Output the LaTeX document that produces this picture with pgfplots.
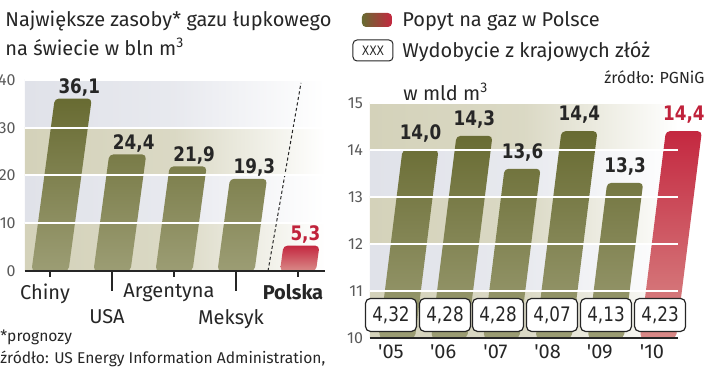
\documentclass[border=0pt]{standalone}
\usepackage{pgfplots}
\pgfplotsset{compat=1.18}
\usepackage{fontspec}
\setmainfont{Fira Sans}
\newfontfamily\valfont[FakeStretch=0.84]{DejaVu Sans}
\definecolor{olT}{HTML}{686B32}
\definecolor{olB}{HTML}{9C9D74}
\definecolor{rdT}{HTML}{C42840}
\definecolor{rdB}{HTML}{D98A88}
\definecolor{gb}{HTML}{E0E2E9}
\definecolor{bg}{HTML}{D4D2BA}
\definecolor{txt}{HTML}{262626}
\definecolor{rdtxt}{HTML}{C0223B}
\definecolor{tk}{HTML}{5A5A5A}
\begin{document}
\begin{tikzpicture}[x=1pt,y=1pt]
\useasboundingbox (0,0) rectangle (360,189);
% ---------- titles ----------
\node[anchor=west, inner sep=0, text=txt, font=\fontsize{10}{12}\selectfont] at (2.5,178.5) {Największe zasoby* gazu łupkowego};
\node[anchor=west, inner sep=0, text=txt, font=\fontsize{10}{12}\selectfont] at (2.5,165.5) {na świecie w bln m\textsuperscript{3}};
\node[anchor=west, inner sep=0, text=txt, font=\fontsize{7.8}{9}\selectfont] at (0,20.5) {*prognozy};
\node[anchor=west, inner sep=0, text=txt, font=\fontsize{7.8}{9}\selectfont] at (0,9.5) {źródło: US Energy Information Administration,};
% ---------- legend ----------
\shade[left color=olT, right color=rdT, rounded corners=2pt] (181,175.5) rectangle (196,182.5);
\node[anchor=west, inner sep=0, text=txt, font=\fontsize{10}{12}\selectfont] at (201,178.5) {Popyt na gaz w Polsce};
\draw[txt, line width=0.5pt, rounded corners=2pt, fill=white] (176.5,158.5) rectangle (196.5,169);
\node[inner sep=0, text=txt, font=\valfont\fontsize{6.5}{8}\selectfont] at (186.5,163.7) {XXX};
\node[anchor=west, inner sep=0, text=txt, font=\fontsize{10}{12}\selectfont] at (201,163) {Wydobycie z krajowych złóż};
\node[anchor=east, inner sep=0, text=txt, font=\fontsize{8}{10}\selectfont] at (352.5,150.5) {źródło: PGNiG};
\node[anchor=west, inner sep=0, text=txt, font=\fontsize{10}{12}\selectfont] at (201.5,143) {w mld m\textsuperscript{3}};
% ---------- left axis ----------
\begin{axis}[at={(12.5pt,53.5pt)}, anchor=south west, scale only axis,
  width=150pt, height=95.5pt, disabledatascaling,
  xmin=-0.403, xmax=4.435, ymin=0, ymax=40,
  axis lines*=left, axis on top,
  x axis line style={line width=0.75pt, txt},
  y axis line style={draw=none},
  ytick={0,10,20,30,40}, yticklabels={0,10,20,30,40}, ytick style={draw=none},
  ymajorgrids, grid style={white, line width=1pt},
  yticklabel style={text=tk, font=\fontsize{8}{9}\selectfont, inner sep=1.5pt},
  xtick={0,2,4}, xticklabels={Chiny,Argentyna,\textbf{Polska}},
  tick align=outside, major tick length=3pt, xtick style={txt, line width=0.6pt},
  xticklabel style={text=txt, font=\fontsize{10}{12}\selectfont, xshift=-2.5pt},
  extra x ticks={1,3}, extra x tick labels={USA,Meksyk},
  extra x tick style={major tick length=10pt, tick label style={yshift=-5.5pt}},
  /pgf/number format/assume math mode=true,
  clip=false]
\addplot[draw=none, left color=gb, right color=white, middle color=gb!75, forget plot] coordinates {(-0.403,30) (4.435,30) (4.435,40) (-0.403,40)} -- cycle;
\addplot[draw=none, left color=bg, right color=white, middle color=bg!85, forget plot] coordinates {(-0.403,20) (4.435,20) (4.435,30) (-0.403,30)} -- cycle;
\addplot[draw=none, left color=gb, right color=white, middle color=gb!75, forget plot] coordinates {(-0.403,10) (4.435,10) (4.435,20) (-0.403,20)} -- cycle;
\addplot[draw=none, left color=bg, right color=white, middle color=bg!85, forget plot] coordinates {(-0.403,0) (4.435,0) (4.435,10) (-0.403,10)} -- cycle;
\addplot[ybar, bar width=18.5pt, draw=none, top color=olT, bottom color=olB, xslant=0.135, rounded corners=2pt,
  point meta=explicit symbolic,
  nodes near coords={\pgfplotspointmeta}, nodes near coords style={anchor=south, inner sep=0, yshift=1pt, xshift=3pt, text=txt, font=\valfont\bfseries\fontsize{10}{12}\selectfont}]
  table[meta=label] {
x y label
0 36.1 36,1
1 24.4 24,4
2 21.9 21,9
3 19.3 19,3
};
\addplot[ybar, bar width=18pt, draw=none, top color=rdT, bottom color=rdB, xslant=0.135, rounded corners=2pt,
  point meta=explicit symbolic,
  nodes near coords={\pgfplotspointmeta}, nodes near coords style={anchor=south, inner sep=0, yshift=1pt, xshift=2pt, text=rdtxt, font=\valfont\bfseries\fontsize{10}{12}\selectfont}]
  table[meta=label] {
x y label
4 5.3 5,3
};
\addplot[txt, dash pattern=on 1.6pt off 1.2pt, line width=0.5pt] coordinates {(3.516,0) (4.048,39.4)};
\end{axis}
% ---------- right axis ----------
\begin{axis}[at={(185pt,20pt)}, anchor=south west, scale only axis,
  width=154pt, height=117.5pt, disabledatascaling,
  xmin=-0.517, xmax=5.383, ymin=0, ymax=5,
  axis lines*=left, axis on top,
  x axis line style={line width=0.75pt, txt},
  y axis line style={draw=none},
  ytick={0,1,2,3,4,5}, yticklabels={10,11,12,13,14,15}, ytick style={draw=none},
  ymajorgrids, grid style={white, line width=1pt},
  yticklabel style={text=tk, font=\fontsize{8}{9}\selectfont},
  xtick={0,1,2,3,4,5}, xticklabels={\textquotesingle05,\textquotesingle06,\textquotesingle07,\textquotesingle08,\textquotesingle09,\textquotesingle10}, xtick style={draw=none},
  xticklabel style={text=txt, font=\fontsize{10}{12}\selectfont, xshift=-3pt},
  /pgf/number format/assume math mode=true,
  clip=false]
\addplot[draw=none, left color=bg, right color=white, middle color=bg!85, forget plot] coordinates {(-0.517,4) (5.383,4) (5.383,5) (-0.517,5)} -- cycle;
\addplot[draw=none, left color=gb, right color=white, middle color=gb!75, forget plot] coordinates {(-0.517,3) (5.383,3) (5.383,4) (-0.517,4)} -- cycle;
\addplot[draw=none, left color=bg, right color=white, middle color=bg!85, forget plot] coordinates {(-0.517,2) (5.383,2) (5.383,3) (-0.517,3)} -- cycle;
\addplot[draw=none, left color=gb, right color=white, middle color=gb!75, forget plot] coordinates {(-0.517,1) (5.383,1) (5.383,2) (-0.517,2)} -- cycle;
\addplot[draw=none, left color=bg, right color=white, middle color=bg!85, forget plot] coordinates {(-0.517,0) (5.383,0) (5.383,1) (-0.517,1)} -- cycle;
\addplot[ybar, bar width=18pt, draw=none, top color=olT, bottom color=olB, xslant=0.125, rounded corners=2pt,
  point meta=explicit symbolic,
  nodes near coords={\pgfplotspointmeta}, nodes near coords style={anchor=south, inner sep=0, yshift=3.5pt, text=txt, font=\valfont\bfseries\fontsize{10}{12}\selectfont}]
  table[meta=label] {
x y label
0 4.0 14,0
1 4.3 14,3
2 3.6 13,6
3 4.4 14,4
4 3.3 13,3
};
\addplot[ybar, bar width=18pt, draw=none, top color=rdT, bottom color=rdB, xslant=0.125, rounded corners=2pt,
  point meta=explicit symbolic,
  nodes near coords={\pgfplotspointmeta}, nodes near coords style={anchor=south, inner sep=0, yshift=3.5pt, text=rdtxt, font=\valfont\bfseries\fontsize{10}{12}\selectfont}]
  table[meta=label] {
x y label
5 4.4 14,4
};
\addplot[draw=none, mark=none, point meta=explicit symbolic,
  nodes near coords={\pgfplotspointmeta}, nodes near coords style={anchor=center, draw=txt, line width=0.6pt, fill=white, rounded corners=2.5pt, minimum width=25.5pt, minimum height=16.5pt, inner sep=0, text=txt, font=\valfont\fontsize{10}{12}\selectfont}]
  table[meta=label] {
x y label
-0.115 0.49 4,32
0.92 0.49 4,28
1.935 0.49 4,28
2.97 0.49 4,07
4.004 0.49 4,13
5.04 0.49 4,23
};
\end{axis}
\end{tikzpicture}
\end{document}
